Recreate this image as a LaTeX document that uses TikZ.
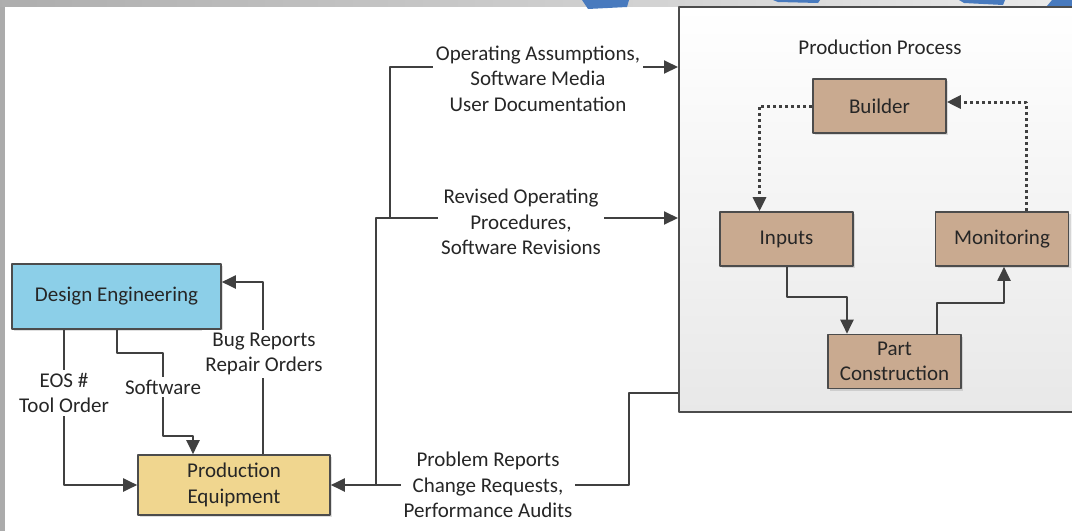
\documentclass[tikz,border=0pt]{standalone}
\usepackage{fontspec}
\setmainfont{Carlito}
\usetikzlibrary{positioning,arrows.meta,shadows}
\definecolor{defill}{RGB}{140,207,232}
\definecolor{pefill}{RGB}{240,214,143}
\definecolor{tanfill}{RGB}{201,170,144}
\definecolor{tabblue}{RGB}{72,122,190}
\tikzset{
  blk/.style={rectangle,draw=black!70,line width=0.8pt,text=black!85,align=center,
    drop shadow={opacity=0.25,shadow xshift=1pt,shadow yshift=-1pt}},
  tanbox/.style={blk,fill=tanfill,minimum width=66.5pt,minimum height=27pt,inner sep=1pt},
  lbl/.style={fill=white,inner sep=1.5pt,align=center,text=black!85},
  con/.style={draw=black!75,line width=1pt,-{Triangle[length=7pt,width=6.5pt]}},
  dotcon/.style={con,line width=1.5pt,dash pattern=on 1.5pt off 1.5pt},
}
\begin{document}
\begin{tikzpicture}[x=0.5pt,y=-0.5pt,font=\fontsize{10.5}{12.75}\selectfont,line join=round]
\useasboundingbox (0,0) rectangle (1072,531);
\fill[white] (0,0) rectangle (1072,531);
%frame
\fill[black!33] (0,0) rectangle (5,531);
\shade[left color=black!32,right color=black!8] (0,0) rectangle (1072,6);
\fill[tabblue] (582,0)--(629,0)--(627,7)--(588,9)--cycle;
\fill[tabblue] (773,0)--(820,0)--(818,3)--(778,2)--cycle;
\fill[tabblue] (959,0)--(1005,0)--(1003,5)--(964,3)--cycle;
\fill[tabblue] (1052,0)--(1072,0)--(1072,15)--(1042,12)--cycle;
%Production process
\node[draw=black!70,line width=1pt,top color=white,bottom color=black!9,
  minimum width=205.5pt,minimum height=202.5pt,inner sep=0](proc) at (884.5,209.5){};
\node[text=black!85](ptitle) at (880,47){Production Process};
\path (879.5,106) node[tanbox](builder){Builder}%Level 0
  ++(-93,133) node[tanbox](inputs){Inputs}%Level 1
  (builder)++(122.5,133) node[tanbox](monit){Monitoring}%Level 1
  (builder)++(15,255.5) node[tanbox](part){Part\\Construction}%Level 2
  ;
%Left side
\path (116.5,296.5) node[blk,fill=defill,minimum width=104.5pt,minimum height=32.5pt](de){Design Engineering}
  ++(117.5,188.5) node[blk,fill=pefill,minimum width=96pt,minimum height=30pt,inner sep=1pt](pe){Production\\Equipment}
  ;
\path (pe.east) ++(45,0) coordinate (j1) ++(14,-267) coordinate (j2);
%Draw
\draw[dotcon] (builder.west) -| ([xshift=-13.5pt]inputs.north);
\draw[dotcon] ([xshift=12pt]monit.north) |- ([yshift=2pt]builder.east);
\draw[con] (inputs.south) -- ++(0,30) -| ([xshift=-23.75pt]part.north);
\draw[con] ([xshift=21.25pt]part.north) -- ++(0,-31) -| ([xshift=1pt]monit.south);
%%%
\draw[con] ([xshift=-26.25pt]de.south) |- (pe.west);
\draw[con] (de.south) -- ++(0,23) -| ++(46,83) -| ([xshift=-20.5pt]pe.north);
\draw[con] ([xshift=14.5pt]pe.north) |- ([yshift=7.25pt]de.east);
%%%
\draw[con] ([yshift=10pt]proc.south west) -- ++(-49,0) |- (pe.east);
\draw[con] (j1) |- ([yshift=-4.25pt]proc.west);
\draw[con] (j2) |- ([yshift=71.25pt]proc.west);
%Labels
\node[lbl](oa) at (538,78.5){Operating Assumptions,\\Software Media\\User Documentation};
\node[lbl](ro) at (521,222){Revised Operating\\Procedures,\\Software Revisions};
\node[lbl](pr) at (488,485){Problem Reports\\Change Requests,\\Performance Audits};
\node[lbl](br) at (264,354){Bug Reports\\Repair Orders};
\node[lbl](sw) at (163,387){Software};
\node[lbl](eos) at (64,393){EOS \#\\Tool Order};
\end{tikzpicture}
\end{document}
